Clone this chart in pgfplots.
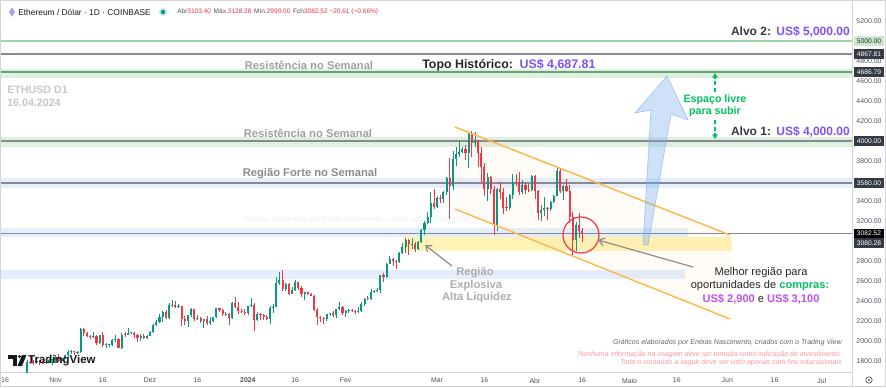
\documentclass[border=0pt]{standalone}
\usepackage{fontspec}
\setmainfont{Liberation Sans}
\usepackage{pgfplots}
\pgfplotsset{compat=1.18}
\usepackage{pgfplotstable}
\usetikzlibrary{arrows.meta}

\definecolor{tvgreen}{RGB}{8,153,129}
\definecolor{tvred}{RGB}{242,54,69}
\definecolor{bandgreen}{RGB}{222,240,223}
\definecolor{linegreen}{RGB}{160,212,162}
\definecolor{linegray}{RGB}{135,138,148}
\definecolor{bandblue}{RGB}{228,238,252}
\definecolor{bandyellow}{RGB}{255,243,182}
\definecolor{tvorange}{RGB}{255,183,77}
\definecolor{tvpurple}{RGB}{125,82,245}
\definecolor{tvmag}{RGB}{190,80,235}
\definecolor{tvgreen2}{RGB}{0,195,95}
\definecolor{txtgray}{RGB}{160,160,160}
\definecolor{txtgray2}{RGB}{140,140,140}
\definecolor{tvdark}{RGB}{54,58,69}
\definecolor{tvtick}{RGB}{80,82,92}
\definecolor{tvborder}{RGB}{210,212,220}
\definecolor{arrowblue}{RGB}{120,170,240}
\definecolor{pinktxt}{RGB}{255,150,160}

\newcommand\fs[1]{\fontsize{#1}{#1}\selectfont}

\pgfplotstableread{
d o h l c
21 1629 1670 1620 1664
22 1664 1810 1657 1789
23 1789 1855 1770 1787
24 1787 1815 1765 1786
25 1786 1840 1770 1803
26 1803 1810 1760 1779
27 1779 1800 1770 1777
28 1777 1820 1770 1795
29 1795 1825 1780 1810
30 1810 1825 1765 1815
31 1815 1860 1785 1845
32 1845 1870 1790 1797
33 1797 1835 1780 1833
34 1833 1865 1825 1859
35 1859 1910 1840 1891
36 1891 1910 1870 1899
37 1899 1905 1865 1887
38 1887 1900 1875 1890
39 1890 2135 1885 2121
40 2121 2135 2055 2077
41 2077 2090 2040 2052
42 2052 2065 2025 2045
43 2045 2095 2035 2055
44 2055 2065 1960 1980
45 1980 2065 1975 2057
46 2057 2090 1940 1961
47 1961 1985 1930 1962
48 1962 1975 1940 1963
49 1963 2020 1955 2014
50 2014 2060 1995 2021
51 2021 2030 1930 1935
52 1935 2085 1920 2064
53 2064 2090 2045 2063
54 2063 2130 2060 2081
55 2081 2095 2075 2085
56 2085 2090 2035 2064
57 2064 2070 1995 2027
58 2027 2070 2000 2048
59 2048 2075 2025 2030
60 2030 2060 2025 2052
61 2052 2105 2050 2088
62 2088 2170 2085 2165
63 2165 2210 2150 2194
64 2194 2275 2185 2243
65 2243 2305 2195 2293
66 2293 2310 2220 2232
67 2232 2385 2225 2358
68 2358 2410 2345 2362
69 2362 2400 2335 2343
70 2343 2375 2335 2353
71 2353 2355 2150 2225
72 2225 2250 2160 2202
73 2202 2265 2145 2260
74 2260 2335 2240 2317
75 2317 2320 2205 2222
76 2222 2260 2215 2229
77 2229 2245 2185 2197
78 2197 2225 2135 2218
79 2218 2255 2160 2177
80 2177 2240 2160 2201
81 2201 2245 2190 2238
82 2238 2335 2230 2326
83 2326 2330 2290 2311
84 2311 2320 2255 2268
85 2268 2290 2250 2274
86 2274 2280 2165 2230
87 2230 2395 2220 2381
88 2381 2445 2335 2345
89 2345 2390 2275 2298
90 2298 2325 2280 2291
91 2291 2325 2265 2282
92 2282 2355 2265 2352
93 2352 2430 2345 2356
94 2356 2385 2100 2210
95 2210 2290 2205 2268
96 2268 2280 2210 2262
97 2262 2270 2215 2241
98 2241 2265 2215 2221
99 2221 2355 2170 2331
100 2331 2370 2280 2344
101 2344 2645 2340 2585
102 2585 2690 2560 2615
103 2615 2715 2505 2525
104 2525 2580 2500 2575
105 2575 2585 2465 2472
106 2472 2545 2470 2510
107 2510 2610 2500 2586
108 2586 2590 2510 2530
109 2530 2550 2440 2467
110 2467 2495 2410 2490
111 2490 2492 2460 2471
112 2471 2480 2450 2455
113 2455 2465 2305 2311
114 2311 2330 2165 2241
115 2241 2255 2195 2235
116 2235 2240 2170 2218
117 2218 2275 2205 2266
118 2266 2285 2255 2276
119 2276 2305 2240 2256
120 2256 2325 2230 2317
121 2317 2390 2315 2343
122 2343 2350 2265 2283
123 2283 2310 2240 2304
124 2304 2325 2280 2308
125 2308 2325 2290 2296
126 2296 2310 2270 2290
127 2290 2340 2285 2300
128 2300 2390 2295 2373
129 2373 2435 2355 2424
130 2424 2450 2410 2420
131 2420 2520 2415 2486
132 2486 2515 2480 2500
133 2500 2535 2490 2506
134 2506 2665 2480 2658
135 2658 2685 2590 2641
136 2641 2785 2635 2775
137 2775 2855 2770 2825
138 2825 2835 2755 2803
139 2803 2810 2720 2786
140 2786 2890 2780 2882
141 2882 2985 2870 2945
142 2945 3035 2880 3014
143 3014 3020 2860 2967
144 2967 3035 2925 2971
145 2971 2990 2890 2923
146 2923 3000 2915 2990
147 2990 3120 2985 3113
148 3113 3200 3065 3178
149 3178 3290 3170 3241
150 3241 3490 3180 3385
151 3385 3520 3320 3341
152 3341 3450 3335 3434
153 3434 3455 3385 3422
154 3422 3495 3380 3489
155 3489 3640 3460 3629
156 3629 3830 3220 3553
157 3553 3900 3510 3818
158 3818 3940 3750 3868
159 3868 3995 3840 3888
160 3888 3940 3880 3915
161 3915 3960 3805 3878
162 3878 4085 3725 4067
163 4067 4095 3835 3982
164 3982 4085 3935 4006
165 4006 4010 3735 3881
166 3881 3935 3575 3735
167 3735 3780 3450 3523
168 3523 3680 3405 3644
169 3644 3650 3465 3519
170 3519 3550 3060 3164
171 3164 3530 3100 3515
172 3515 3590 3420 3491
173 3491 3525 3270 3334
174 3334 3440 3300 3330
175 3330 3465 3310 3455
176 3455 3665 3425 3590
177 3590 3670 3550 3588
178 3588 3685 3460 3492
179 3492 3610 3470 3561
180 3561 3585 3465 3507
181 3507 3565 3490 3506
182 3506 3655 3500 3647
183 3647 3660 3420 3504
184 3504 3510 3210 3278
185 3278 3365 3205 3310
186 3310 3440 3255 3327
187 3327 3340 3210 3318
188 3318 3400 3305 3391
189 3391 3460 3380 3453
190 3453 3730 3450 3700
191 3700 3725 3480 3504
192 3504 3560 3410 3546
193 3546 3615 3490 3503
194 3503 3555 3180 3237
195 3237 3290 2850 3007
196 3007 3190 2900 3157
197 3157 3280 3030 3103
198 3103 3128 2990 3083
}\eth

\pgfplotsset{pxaxis/.style={scale only axis, width=639pt, height=279pt,
  xmin=0, xmax=852, ymin=0, ymax=372, y dir=reverse, hide axis, clip=false,
  at={(0,0)}, anchor=south west},
  candle/.style n args={2}{draw=none, mark=none, forget plot,
  error bars/.cd, y dir=plus, y explicit, error mark=none,
  error bar style={draw=#1, solid, line width=#2}}}

\begin{document}
\begin{tikzpicture}
% ---------- background layer (pixel coordinates) ----------
\begin{axis}[pxaxis]
  \fill[white] (0,0) rectangle (886,387);
  % zones
  \fill[bandgreen] (0,69) rectangle (852,78);
  \fill[bandgreen] (0,137) rectangle (852,147);
  \fill[bandblue] (0,178) rectangle (852,188);
  \fill[bandblue] (0,228) rectangle (688,237);
  \fill[bandblue] (0,270) rectangle (685,279);
  \fill[bandyellow] (403,237) rectangle (732,251);
  % channel fill
  \fill[tvorange, fill opacity=0.035] (455,127) -- (730,235) -- (730,319) -- (455,209) -- cycle;
  % lines
  \draw[linegreen, line width=1pt] (0,41) -- (852,41);
  \draw[linegray, line width=0.8pt] (0,54) -- (852,54);
  \draw[linegray!80!green, line width=0.8pt] (0,72) -- (852,72);
  \draw[linegray, line width=0.8pt] (0,141) -- (852,141);
  \draw[linegray, line width=0.8pt] (0,183) -- (852,183);
  \draw[linegray, line width=0.8pt] (0,233.5) -- (852,233.5);
  % faint watermark
  \node[font=\fs{5.3}\itshape, text=black, opacity=0.07, inner sep=0] at (358,220) {Gráficos elaborados por Enéias Nascimento, criados com o Trading View};
\end{axis}

% ---------- candles (data coordinates) ----------
\begin{axis}[scale only axis, width=639pt, height=279pt, at={(0,0)}, anchor=south west,
  xmin=13.41, xmax=283.54, ymin=1690, ymax=5410,
  axis x line*=bottom, axis y line*=right,
  axis line style={draw=tvborder, line width=0.7pt},
  major tick length=0pt,
  xtick={15,31,46,61,76,92,107,123,152,167,183,198,213,228,244,259,274},
  xticklabels={16,Nov,16,Dez,16,\textbf{2024},16,Fev,Mar,16,Abr,16,Maio,16,Jun,16,Jul},
  ytick={1800,2000,2200,2400,2600,2800,3200,3400,3800,4200,4400,4600,4800,5200},
  yticklabels={1800.00,2000.00,2200.00,2400.00,2600.00,2800.00,3200.00,3400.00,3800.00,4200.00,4400.00,4600.00,4800.00,5200.00},
  ticklabel style={font=\fs{5.2}, text=tvtick},
  xticklabel style={anchor=center, yshift=-6.4pt},
  yticklabel style={anchor=center, xshift=12.75pt}]
  % green wicks and bodies (rows of the other colour are sent to y=0, far below the view, and clipped)
  \addplot[candle={tvgreen}{0.55pt}]
    table[x=d, y expr={\thisrow{c}>=\thisrow{o} ? \thisrow{l} : 0}, y error plus expr={\thisrow{c}>=\thisrow{o} ? \thisrow{h}-\thisrow{l} : 1}] {\eth};
  \addplot[candle={tvgreen}{1.6pt}]
    table[x=d, y expr={\thisrow{c}>=\thisrow{o} ? \thisrow{o} : 0}, y error plus expr={\thisrow{c}>=\thisrow{o} ? max(\thisrow{c}-\thisrow{o},6) : 1}] {\eth};
  % red wicks and bodies
  \addplot[candle={tvred}{0.55pt}]
    table[x=d, y expr={\thisrow{c}<\thisrow{o} ? \thisrow{l} : 0}, y error plus expr={\thisrow{c}<\thisrow{o} ? \thisrow{h}-\thisrow{l} : 1}] {\eth};
  \addplot[candle={tvred}{1.6pt}]
    table[x=d, y expr={\thisrow{c}<\thisrow{o} ? \thisrow{c} : 0}, y error plus expr={\thisrow{c}<\thisrow{o} ? max(\thisrow{o}-\thisrow{c},6) : 1}] {\eth};
\end{axis}

% ---------- overlay layer (pixel coordinates) ----------
\begin{axis}[pxaxis]
  % channel lines
  \draw[tvorange, line width=1.1pt] (455,127) -- (730,235);
  \draw[tvorange, line width=1.1pt] (455,209) -- (730,319);
  % red circle
  \draw[tvred, line width=0.9pt] (581,235) circle[radius=13.5pt];
  % blue arrow
  \filldraw[fill=arrowblue, draw=arrowblue, fill opacity=0.35, draw opacity=0.6, line width=0.5pt]
    (643,245) -- (651,110) -- (635,113) -- (667,76) -- (688,120) -- (671,114) -- (648,245) -- cycle;
  % green dashed arrow
  \draw[tvgreen2, dashed, dash pattern=on 3pt off 2pt, line width=1.1pt, -{Triangle[length=3.5pt,width=4pt]}] (715,92) -- (715,73);
  \draw[tvgreen2, dashed, dash pattern=on 3pt off 2pt, line width=1.1pt, -{Triangle[length=3.5pt,width=4pt]}] (715,120) -- (715,139);
  \node[font=\fs{8}\bfseries, text=tvgreen2, inner sep=0] at (715,100) {Espaço livre};
  \node[font=\fs{8}\bfseries, text=tvgreen2, inner sep=0] at (715,112) {para subir};
  % gray arrows
  \draw[txtgray2, line width=0.9pt, -{Straight Barb[length=4pt,width=6pt]}] (452,266) -- (425,245);
  \draw[txtgray2, line width=0.9pt, -{Straight Barb[length=4pt,width=6pt]}] (693,267) -- (598,240);
  % labels on levels
  \node[font=\fs{9}\bfseries, anchor=east, inner sep=0] at (850,32) {{\color{tvdark}Alvo 2:}\hspace{4pt}{\color{tvpurple}US\$ 5,000.00}};
  \node[font=\fs{9}\bfseries, anchor=east, inner sep=0] at (850,132) {{\color{tvdark}Alvo 1:}\hspace{4pt}{\color{tvpurple}US\$ 4,000.00}};
  \node[font=\fs{8.4}\bfseries, text=txtgray, inner sep=0] at (309,65) {Resistência no Semanal};
  \node[font=\fs{8.4}\bfseries, text=txtgray, inner sep=0] at (308,133) {Resistência no Semanal};
  \node[font=\fs{8.4}\bfseries, text=txtgray2, inner sep=0] at (310,174) {Região Forte no Semanal};
  \node[font=\fs{9.3}\bfseries, anchor=west, inner sep=0] at (422,65) {{\color{black!85}Topo Histórico:}\hspace{5pt}{\color{tvpurple}US\$ 4,687.81}};
  % Região explosiva
  \node[font=\fs{8.4}\bfseries, text=txtgray!85, inner sep=0] at (475,273) {Região};
  \node[font=\fs{8.4}\bfseries, text=txtgray!85, inner sep=0] at (476,285.5) {Explosiva};
  \node[font=\fs{8.4}\bfseries, text=txtgray!85, inner sep=0] at (477,298) {Alta Liquidez};
  % Melhor região
  \node[font=\fs{8.3}, text=black!85, inner sep=0] at (761,273) {Melhor região para};
  \node[font=\fs{8.3}, text=black!85, inner sep=0] at (760,286) {oportunidades de \textbf{\color{tvgreen2}compras:}};
  \node[font=\fs{8.3}, text=black!85, inner sep=0] at (761,299) {\textbf{\color{tvmag}US\$ 2,900} e \textbf{\color{tvmag}US\$ 3,100}};
  % header
  \fill[tvpurple!60] (12,7.5) -- (15,12) -- (12,16.5) -- (9,12) -- cycle;
  \node[font=\fs{6.3}, text=black!90, anchor=west, inner sep=0] at (18,12) {Ethereum / Dólar · 1D · COINBASE};
  \fill[tvgreen!20] (163,12) circle[radius=3.2pt];
  \fill[tvgreen] (163,12) circle[radius=1.7pt];
  \node[font=\fs{4.9}, anchor=west, inner sep=0] at (177,12) {{\color{tvtick}Abr}{\color{tvred}3103.40}\hspace{2pt}{\color{tvtick}Máx.}{\color{tvred}3128.28}\hspace{2pt}{\color{tvtick}Mín.}{\color{tvred}2990.00}\hspace{2pt}{\color{tvtick}Fch}{\color{tvred}3082.52 −20.61 (−0.66\%)}};
  \node[font=\fs{8}\bfseries, text=black!22, anchor=west, inner sep=0] at (7,90) {ETHUSD D1};
  \node[font=\fs{8}\bfseries, text=black!22, anchor=west, inner sep=0] at (7,103) {16.04.2024};
  % bottom-right notes
  \node[font=\fs{5.3}\itshape, text=black!60, anchor=east, inner sep=0] at (842,343) {Gráficos elaborados por Enéias Nascimento, criados com o Trading View};
  \node[font=\fs{5.3}\itshape, text=pinktxt, anchor=east, inner sep=0] at (842,355) {Nenhuma informação na imagem deve ser tomada como indicação de investimento.};
  \node[font=\fs{5.3}\itshape, text=pinktxt, anchor=east, inner sep=0] at (842,363) {Todo o conteúdo a seguir deve ser visto apenas com fins educacionais};
  % TradingView logo
  \fill[black!90] (8,355) rectangle (17,358.5);
  \fill[black!90] (13,358.5) rectangle (17,366);
  \fill[black!90] (19.5,356.5) circle[radius=1.3pt];
  \fill[black!90] (22,355) -- (26.5,355) -- (22,366) -- (17.5,366) -- cycle;
  \node[font=\fs{8.6}\bfseries, text=black!90, anchor=west, inner sep=0] at (28,360.5) {TradingView};
  % price badges
  \node[fill=bandgreen!70!linegreen, text=black!85, font=\fs{5}, inner sep=0, minimum width=23pt, minimum height=7.4pt] at (869,41) {5000.00};
  \node[fill=tvdark, text=white, font=\fs{5}, inner sep=0, minimum width=23pt, minimum height=7.4pt] at (869,54) {4867.81};
  \node[fill=tvdark, text=white, font=\fs{5}, inner sep=0, minimum width=23pt, minimum height=7.4pt] at (869,72) {4686.79};
  \node[fill=tvdark, text=white, font=\fs{5}, inner sep=0, minimum width=23pt, minimum height=7.4pt] at (869,141) {4000.00};
  \node[fill=tvdark, text=white, font=\fs{5}, inner sep=0, minimum width=23pt, minimum height=7.4pt] at (869,183) {3580.00};
  \node[fill=black, text=white, font=\fs{5}, inner sep=0, minimum width=23pt, minimum height=7.4pt] at (869,233.5) {3082.52};
  \node[fill=tvdark, text=white, font=\fs{5}, inner sep=0, minimum width=23pt, minimum height=7.4pt] at (869,243) {3080.28};
  % frame bits
  \draw[tvborder, line width=0.7pt] (852,372) -- (852,387);
  \draw[tvtick, line width=0.5pt] (869,380) circle[radius=2.4pt];
  \fill[tvtick] (869,380) circle[radius=0.8pt];
  \draw[tvborder, line width=0.8pt] (0.5,0.5) rectangle (885.5,386.5);
\end{axis}
\pgfresetboundingbox
\path (0,-11.25pt) rectangle (664.5pt,279pt);
\end{tikzpicture}
\end{document}
